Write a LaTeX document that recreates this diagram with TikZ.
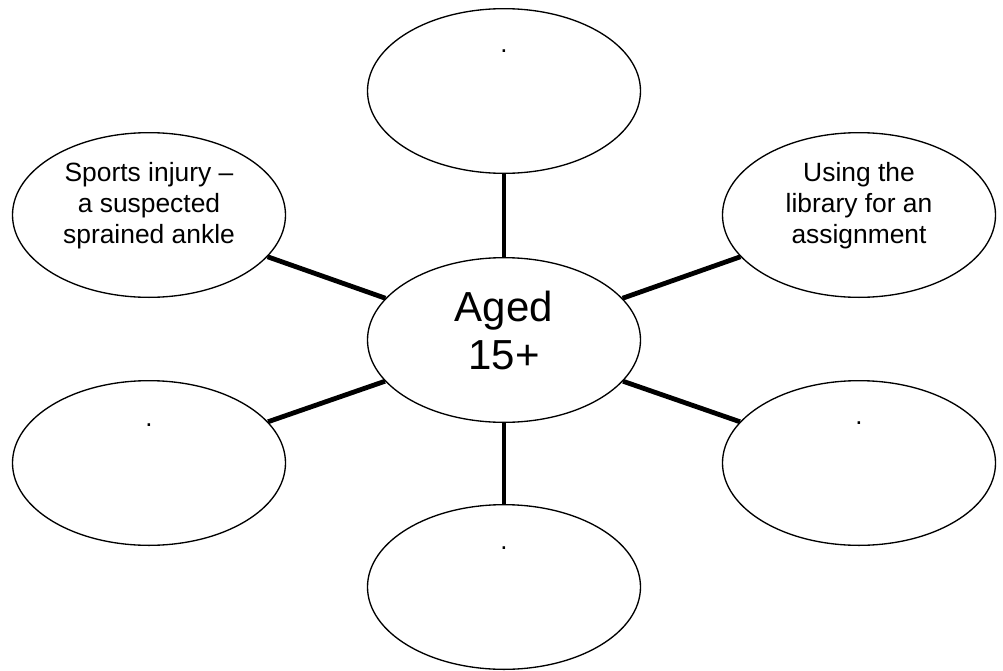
\documentclass[tikz,border=0pt]{standalone}
\usepackage{fontspec}
\setmainfont{Liberation Sans}
\usetikzlibrary{shapes.geometric}

\tikzset{
  bubble/.style={draw, ellipse, line width=1pt, minimum width=204.75pt, minimum height=123.5pt, inner sep=0pt},
  spoke/.style={line width=3.6pt},
  lbl/.style={align=center, inner sep=0pt, font=\fontsize{19.8}{23.25}\selectfont},
  hublbl/.style={align=center, inner sep=0pt, font=\fontsize{31.5}{36}\selectfont},
  blankdot/.style={anchor=base, inner sep=0pt, font=\fontsize{19.4}{20}\selectfont}
}

\begin{document}
\begin{tikzpicture}[x=0.75pt,y=-0.75pt]
	\useasboundingbox (0,0) rectangle (1003,671);

	\node[bubble] (hub) at (504,340) {};
	\node[bubble] (top) at (504,91) {};
	\node[bubble] (bottom) at (504,587) {};
	\node[bubble] (lefttop) at (149,215) {};
	\node[bubble] (righttop) at (859,215) {};
	\node[bubble] (leftbot) at (149,463) {};
	\node[bubble] (rightbot) at (859,463) {};

	\draw[spoke] (hub) -- (top);
	\draw[spoke] (hub) -- (bottom);
	\draw[spoke] (hub) -- (lefttop);
	\draw[spoke] (hub) -- (righttop);
	\draw[spoke] (hub) -- (leftbot);
	\draw[spoke] (hub) -- (rightbot);

	\node[hublbl] (hubtext) at (504,330.5) {Aged\\15+};
	\node[lbl] (injury) at (149,206) {Sports injury –\\a suspected\\sprained ankle};
	\node[lbl] (library) at (859,206) {Using the\\library for an\\assignment};

	\node[blankdot] (dottop) at (504,52) {.};
	\node[blankdot] (dotbottom) at (504,549) {.};
	\node[blankdot] (dotleftbot) at (149,426) {.};
	\node[blankdot] (dotrightbot) at (859,424) {.};
\end{tikzpicture}
\end{document}
